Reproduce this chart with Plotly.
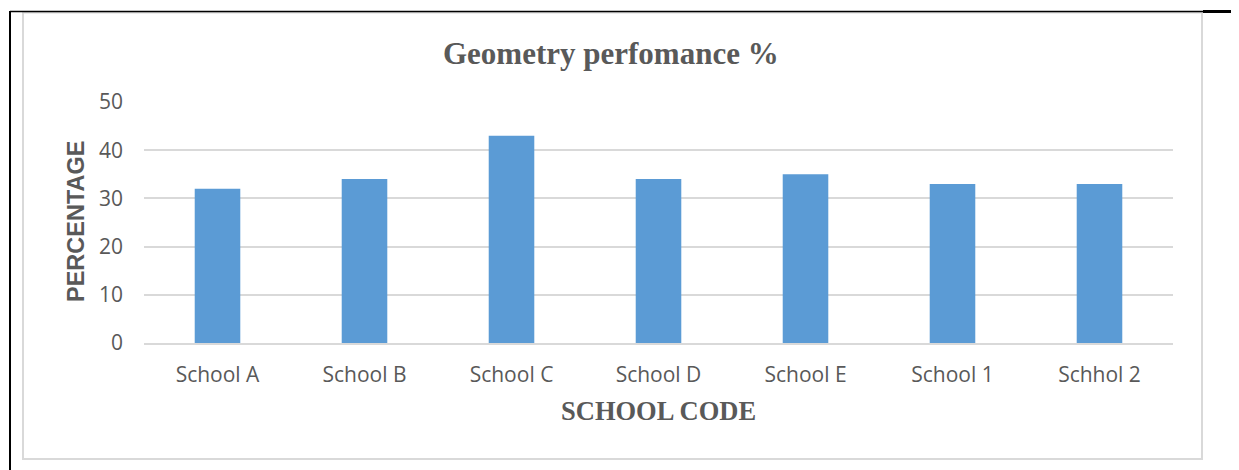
import plotly.graph_objects as go

schools = ["School A", "School B", "School C", "School D", "School E", "School 1", "Schhol 2"]
performance = [32, 34, 43, 34, 35, 33, 33]
y_ticks = [0, 10, 20, 30, 40, 50]

TEXT = "#595959"

# the page puts the figure 8px in from the window corner
OFF = 8
W, H = 1239 - OFF, 470 - OFF
# plot area in window pixels: x 144..1173, y 102..343
L, R, T, B = 144 - OFF, 1173 - OFF, 102 - OFF, 343 - OFF


def px(x):
    return (x - OFF - L) / (R - L)


def py(y):
    return (B - (y - OFF)) / (B - T)


fig = go.Figure()
fig.add_trace(go.Bar(
    x=schools, y=performance,
    marker=dict(color="#5b9bd5", line=dict(width=0)),
    width=0.31,
))

shapes = [
    # light grey chart frame
    dict(type="rect", xref="paper", yref="paper",
         x0=px(23), x1=px(1202), y0=py(459), y1=py(12.5),
         line=dict(color="#d9d9d9", width=2), layer="below"),
    # black table-cell borders
    dict(type="line", xref="paper", yref="paper",
         x0=px(10), x1=px(10), y0=py(11), y1=py(471),
         line=dict(color="black", width=2)),
    dict(type="line", xref="paper", yref="paper",
         x0=px(10), x1=px(1203), y0=py(11.5), y1=py(11.5),
         line=dict(color="black", width=1.5)),
    dict(type="line", xref="paper", yref="paper",
         x0=px(1203), x1=px(1240), y0=py(11.5), y1=py(11.5),
         line=dict(color="black", width=3)),
]

annotations = [
    dict(text="<b>Geometry perfomance %</b>", xref="paper", yref="paper",
         x=px(611), y=py(53), showarrow=False, xanchor="center", yanchor="middle",
         font=dict(family="Liberation Serif", size=31, color=TEXT)),
    dict(text="<b>SCHOOL CODE</b>", xref="paper", yref="paper",
         x=px(658), y=py(411), showarrow=False, xanchor="center", yanchor="middle",
         font=dict(family="Liberation Serif", size=26.5, color=TEXT)),
    dict(text="<b>PERCENTAGE</b>", xref="paper", yref="paper",
         x=px(76), y=py(222), showarrow=False, xanchor="center", yanchor="middle",
         textangle=-90,
         font=dict(family="Liberation Sans", size=23.5, color=TEXT)),
]

fig.update_layout(
    width=W, height=H,
    margin=dict(l=L, r=W - R, t=T, b=H - B, pad=0),
    paper_bgcolor="white", plot_bgcolor="white",
    showlegend=False,
    shapes=shapes,
    annotations=annotations,
    font=dict(family="Open Sans", size=21, color=TEXT),
    xaxis=dict(
        showgrid=False, showline=True, linecolor="#d9d9d9", linewidth=1.5,
        ticks="", ticklabelstandoff=12,
        tickfont=dict(family="Open Sans", size=21, color=TEXT),
    ),
    yaxis=dict(
        range=[0, 50], tickvals=y_ticks, showgrid=True, gridcolor="#d9d9d9",
        gridwidth=1.5, zeroline=False, showline=False, ticks="",
        ticklabelstandoff=20,
        tickfont=dict(family="Open Sans", size=21, color=TEXT),
    ),
)

fig.write_html("out.html")
